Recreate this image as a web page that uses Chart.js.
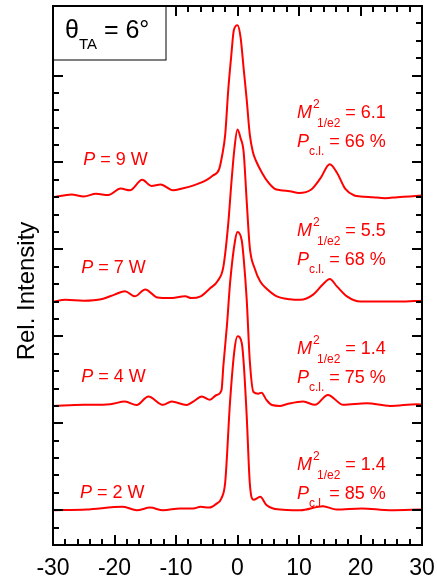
<!DOCTYPE html>
<html lang="en">
<head>
  <meta charset="UTF-8" />
  <title>Beam profiles</title>
  <script src="https://cdn.jsdelivr.net/npm/chart.js"></script>
  <style>
    html, body { margin: 0; padding: 0; background: #fff; }
  </style>
</head>
<body>
  <canvas id="chart" width="437" height="580"></canvas>

  <script>
    // angle (x) and normalized intensity (y) for each power
    const x9 = [-30, -28, -27, -25, -23, -21, -19, -17.5, -15.5, -14, -12.5, -10.5, -9, -7, -5, -4, -3, -2.5, -2, -1.5, -1, -0.6, 0, 0.5, 1, 1.5, 2, 2.5, 3, 4, 5, 6, 7, 8.5, 10, 12, 13.5, 15, 16.2, 17.5, 19, 20, 22, 24, 26, 28, 30];
    const y9 = [0, 0.012, 0.016, 0.005, 0.02, 0.013, 0.05, 0.04, 0.1, 0.065, 0.073, 0.04, 0.05, 0.07, 0.1, 0.125, 0.16, 0.24, 0.36, 0.62, 0.82, 0.96, 0.99, 0.92, 0.74, 0.56, 0.36, 0.26, 0.21, 0.14, 0.085, 0.05, 0.04, 0.035, 0.025, 0.045, 0.11, 0.19, 0.14, 0.05, 0.01, 0.005, 0, -0.005, 0, 0.005, 0.01];

    const x7 = [-30, -28, -25, -22, -20, -18.3, -16.7, -15, -13, -11, -8.5, -7.5, -6, -4.5, -3.2, -2.3, -1.5, -1, -0.5, 0, 0.5, 1, 1.5, 2, 2.8, 3.7, 4.7, 6.4, 8.5, 10.2, 12.3, 13.9, 15, 16.2, 17.8, 20, 23, 26.4, 30];
    const y7 = [0, 0.01, 0.005, 0.015, 0.04, 0.06, 0.03, 0.07, 0.023, 0.02, 0.03, 0.02, 0.03, 0.075, 0.12, 0.2, 0.45, 0.68, 0.88, 0.99, 0.94, 0.86, 0.575, 0.31, 0.19, 0.115, 0.075, 0.03, 0.013, 0.01, 0.04, 0.1, 0.13, 0.086, 0.03, 0, 0, 0, 0.005];

    const x4 = [-30, -25, -20.7, -18.3, -16.4, -14.5, -12.1, -10.7, -8.3, -7.2, -5.8, -4.5, -3.4, -2.6, -2.3, -1.7, -1.2, -0.4, 0, 0.7, 1, 1.5, 2, 2.6, 3.4, 3.9, 4.7, 5.6, 6.9, 8, 10.7, 12.6, 14.7, 17.2, 21, 24.8, 29.2, 30];
    const y4 = [0, 0.006, 0.01, 0.025, 0.005, 0.054, 0.006, 0.025, 0.005, 0.025, 0.054, 0.035, 0.063, 0.09, 0.23, 0.47, 0.71, 0.95, 1.0, 0.95, 0.85, 0.61, 0.26, 0.08, 0.07, 0.076, 0.035, 0.005, 0, 0.01, 0.025, 0.006, 0.063, 0.006, 0.015, 0, 0.01, 0.006];

    const x2 = [-30, -24.6, -18.6, -16.4, -14.2, -12.1, -9.3, -7.2, -6, -4.6, -3.5, -2.6, -2, -1.2, -0.5, 0, 0.7, 1, 1.5, 2, 2.6, 3.7, 4.7, 5.8, 8, 10.2, 13.9, 16.1, 20.2, 24.8, 30];
    const y2 = [0, 0.004, 0.02, 0, 0.015, 0, 0.01, 0.01, 0.02, 0.015, 0.035, 0.07, 0.16, 0.63, 0.92, 1.0, 0.96, 0.85, 0.54, 0.155, 0.06, 0.077, 0.03, 0.01, 0.002, 0, 0.023, 0.004, 0.01, 0, 0.004];

    const powers = [9, 7, 4, 2];            // W
    const offsets = [1.8, 1.2, 0.6, 0];     // vertical stacking of the curves
    const m2 = ['6.1', '5.5', '1.4', '1.4'];
    const pcl = [66, 68, 75, 85];           // %
    const xTickValues = [-30, -20, -10, 0, 10, 20, 30];

    // where the labels sit, in data units
    const powerLabelPos = [[-25.1, 1.985], [-25.4, 1.364], [-25.4, 0.737], [-25.6, 0.07]];
    const m2LabelPos = [[9.67, 2.255], [9.67, 1.577], [9.67, 0.898], [9.67, 0.231]];

    const seriesX = [x9, x7, x4, x2];
    const seriesY = [y9, y7, y4, y2];

    const datasets = seriesX.map((xs, i) => ({
      label: powers[i] + ' W',
      data: xs.map((v, j) => ({ x: v, y: seriesY[i][j] + offsets[i] })),
      borderColor: '#ff0000',
      borderWidth: 2,
      pointRadius: 0,
      fill: false,
      cubicInterpolationMode: 'monotone'
    }));

    const FONT = '"Liberation Sans", Arial, sans-serif';
    const RED = '#ff0000';

    // draws a row of text pieces (italic / sub / sup) one after another
    function runs(ctx, x, y, parts) {
      for (const p of parts) {
        ctx.font = (p.i ? 'italic ' : '') + p.s + 'px ' + FONT;
        x += p.dx || 0;
        ctx.fillText(p.t, x, y + (p.dy || 0));
        if (!p.stay) x += ctx.measureText(p.t).width;
      }
      return x;
    }

    const decor = {
      id: 'decor',
      afterDraw(chart) {
        const { ctx, chartArea: a, scales: { x, y } } = chart;
        ctx.save();

        // ticks pointing inward on all four sides
        ctx.strokeStyle = '#000';
        ctx.lineWidth = 2;
        ctx.beginPath();
        for (let v = -30; v <= 30; v += 2) {
          const px = Math.round(x.getPixelForValue(v));
          const len = v % 10 === 0 ? 10 : 6;
          ctx.moveTo(px, a.bottom); ctx.lineTo(px, a.bottom - len);
          ctx.moveTo(px, a.top); ctx.lineTo(px, a.top + len);
        }
        for (let i = 1; i <= 30; i++) {
          const py = Math.round(y.getPixelForValue(-0.2 + i * 0.1));
          const len = i % 5 === 2 ? 10 : 6;
          ctx.moveTo(a.left, py); ctx.lineTo(a.left + len, py);
          ctx.moveTo(a.right, py); ctx.lineTo(a.right - len, py);
        }
        ctx.stroke();
        ctx.strokeRect(a.left, a.top, a.right - a.left, a.bottom - a.top);

        // angle box
        ctx.lineWidth = 1;
        ctx.fillStyle = '#fff';
        ctx.fillRect(a.left, a.top, 113, 54);
        ctx.strokeRect(a.left + 0.5, a.top + 0.5, 112.5, 53.5);
        ctx.fillStyle = '#000';
        ctx.textBaseline = 'alphabetic';
        ctx.textAlign = 'left';
        runs(ctx, a.left + 12, a.top + 32, [
          { t: '\u03b8', s: 25 },
          { t: 'TA', s: 15, dy: 11 },
          { t: ' = 6\u00b0', s: 25 }
        ]);

        // y title
        ctx.save();
        ctx.translate(34, 291);
        ctx.rotate(-Math.PI / 2);
        ctx.textAlign = 'center';
        ctx.font = '24px ' + FONT;
        ctx.fillText('Rel. Intensity', 0, 0);
        ctx.restore();

        // annotations
        ctx.fillStyle = RED;
        ctx.textAlign = 'left';
        powers.forEach((p, i) => {
          const [lx, ly] = powerLabelPos[i];
          runs(ctx, x.getPixelForValue(lx), y.getPixelForValue(ly), [
            { t: 'P', i: 1, s: 18 },
            { t: ' = ' + p + ' W', s: 18 }
          ]);
          const [mx, my] = m2LabelPos[i];
          const px = x.getPixelForValue(mx);
          const py = y.getPixelForValue(my);
          runs(ctx, px, py, [
            { t: 'M', i: 1, s: 18 },
            { t: '2', s: 12, dx: 1, dy: -10, stay: 1 },
            { t: '1/e2', s: 12, dx: 4, dy: 9 },
            { t: ' = ' + m2[i], s: 18 }
          ]);
          runs(ctx, px, py + 29, [
            { t: 'P', i: 1, s: 18 },
            { t: 'c.l.', s: 12, dy: 8 },
            { t: ' = ' + pcl[i] + ' %', s: 18 }
          ]);
        });
        ctx.restore();
      }
    };

    new Chart(document.getElementById('chart'), {
      type: 'line',
      data: { datasets },
      options: {
        responsive: false,
        animation: false,
        devicePixelRatio: 1,
        layout: { padding: { left: 53, right: 15, top: 6, bottom: 0 } },
        plugins: { legend: { display: false }, tooltip: { enabled: false } },
        scales: {
          x: {
            type: 'linear',
            min: -30,
            max: 30,
            afterFit: s => { s.height = 35; s.paddingLeft = 0; s.paddingRight = 0; },
            afterBuildTicks: s => { s.ticks = xTickValues.map(v => ({ value: v })); },
            grid: { display: false, drawTicks: false },
            border: { display: false },
            ticks: { color: '#000', padding: 10, font: { family: FONT, size: 23 }, maxRotation: 0 }
          },
          y: {
            min: -0.2,
            max: 2.9,
            display: false
          }
        }
      },
      plugins: [decor]
    });
  </script>
</body>
</html>
